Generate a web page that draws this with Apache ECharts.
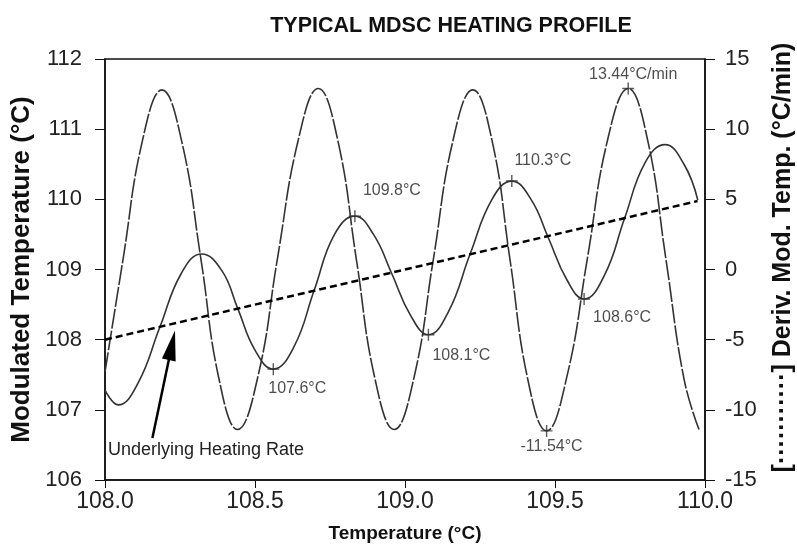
<!DOCTYPE html>
<html>
<head>
<meta charset="utf-8">
<script src="https://cdn.jsdelivr.net/npm/echarts@6/dist/echarts.min.js"></script>
<style>
  html, body { margin: 0; padding: 0; background: #fff; }
  #chart { width: 797px; height: 557px; }
</style>
</head>
<body>
<div id="chart"></div>
<script>
// x values (temperature, degC) and readings for the modulated temperature curve
var modX = [108.000, 108.044, 108.110, 108.183, 108.255, 108.322, 108.390, 108.442, 108.500, 108.561,
            108.630, 108.697, 108.765, 108.833, 108.895, 108.955, 109.018, 109.078, 109.145, 109.217,
            109.290, 109.356, 109.420, 109.477, 109.540, 109.597, 109.665, 109.732, 109.800, 109.867,
            109.930, 109.976];
var modY = [107.28, 107.07, 107.38, 108.18, 108.95, 109.22, 108.98, 108.45, 107.85, 107.58,
            107.90, 108.70, 109.50, 109.76, 109.50, 108.95, 108.35, 108.07, 108.40, 109.22,
            110.00, 110.26, 110.00, 109.46, 108.85, 108.58, 108.92, 109.73, 110.52, 110.78,
            110.50, 109.99];

// derivative of modulated temperature (degC/min, right axis)
var derivX = [108.000, 108.060, 108.125, 108.190, 108.255, 108.320, 108.380, 108.442, 108.510, 108.575,
              108.645, 108.711, 108.775, 108.838, 108.900, 108.964, 109.030, 109.095, 109.160, 109.226,
              109.290, 109.350, 109.410, 109.472, 109.540, 109.608, 109.676, 109.744, 109.808, 109.870,
              109.930, 109.980];
var derivY = [-7.3, 0.7, 9.2, 12.8, 9.2, 0.7, -7.8, -11.4, -7.6, 0.8,
              9.3, 12.9, 9.3, 0.7, -7.8, -11.4, -7.7, 0.8, 9.2, 12.8,
              9.2, 0.7, -7.9, -11.5, -7.6, 0.8, 9.3, 12.9, 9.3, 0.7,
              -7.8, -11.4];

// underlying heating (straight line)
var baseX = [108.0, 109.975];
var baseY = [108.0, 109.975];

// annotated points
var modMarkX = [108.561, 108.833, 109.078, 109.356, 109.597];
var modMarkY = [107.58, 109.76, 108.07, 110.26, 108.58];
var modMarkText = ['107.6°C', '109.8°C', '108.1°C', '110.3°C', '108.6°C'];
var derivMarkX = [109.472, 109.744];
var derivMarkY = [-11.5, 12.9];
var derivMarkText = ['-11.54°C', '13.44°C/min'];

// arrow for "Underlying Heating Rate"
var arrowFrom = [108.158, 106.60];
var arrowTo = [108.223, 107.92];

// label offsets (px) for the annotations
var modLabelOffset = [[24, 19], [37, -26], [33, 21], [31, -20], [38, 19]];
var derivLabelOffset = [[5, 16], [5, -14]];

function pairs(xs, ys) {
    return xs.map(function (x, i) { return [x, ys[i]]; });
}

var plusPath = 'path://M4.4,0H5.6V4.4H10V5.6H5.6V10H4.4V5.6H0V4.4H4.4Z';
var font = 'Liberation Sans, Arial, sans-serif';

var chart = echarts.init(document.getElementById('chart'));

var option = {
    backgroundColor: '#fff',
    animation: false,
    title: {
        text: 'TYPICAL MDSC HEATING PROFILE',
        left: 446,
        top: 10,
        textAlign: 'center',
        textStyle: { fontFamily: font, fontSize: 21.5, fontWeight: 'bold', color: '#111' }
    },
    grid: {
        left: 105, right: 92, top: 59, bottom: 77,
        show: true,
        borderColor: '#111',
        borderWidth: 1.5,
        outerBoundsMode: 'none'
    },
    xAxis: {
        type: 'value',
        min: 108, max: 110, interval: 0.5,
        name: 'Temperature (°C)',
        nameLocation: 'middle',
        nameGap: 44,
        nameTextStyle: { fontFamily: font, fontSize: 19, fontWeight: 'bold', color: '#111' },
        axisLine: { onZero: false, lineStyle: { color: '#111', width: 1.5 } },
        axisTick: { length: 8, lineStyle: { color: '#111' } },
        axisLabel: {
            fontFamily: font, fontSize: 23, color: '#222', margin: 10,
            formatter: function (v) { return v.toFixed(1); }
        },
        splitLine: { show: false }
    },
    yAxis: [{
        type: 'value',
        min: 106, max: 112, interval: 1,
        name: 'Modulated Temperature (°C)',
        nameLocation: 'middle',
        nameRotate: 90,
        nameGap: 66,
        nameTextStyle: { fontFamily: font, fontSize: 26, fontWeight: 'bold', color: '#111' },
        axisLine: { show: true, onZero: false, lineStyle: { color: '#111', width: 1.5 } },
        axisTick: { show: true, length: 10, lineStyle: { color: '#111' } },
        axisLabel: { fontFamily: font, fontSize: 22, color: '#222', margin: 23 },
        splitLine: { show: false }
    }, {
        type: 'value',
        position: 'right',
        min: -15, max: 15, interval: 5,
        name: '[···········] Deriv. Mod. Temp. (°C/min)',
        nameLocation: 'middle',
        nameRotate: 90,
        nameGap: 66,
        nameTextStyle: {
            fontFamily: font, fontSize: 25, fontWeight: 'bold', color: '#111',
            padding: [0, 0, 0, 24]
        },
        axisLine: { show: true, onZero: false, lineStyle: { color: '#111', width: 1.5 } },
        axisTick: { show: true, length: 10, lineStyle: { color: '#111' } },
        axisLabel: { fontFamily: font, fontSize: 22, color: '#222', margin: 20 },
        splitLine: { show: false }
    }],
    series: [{
        name: 'Modulated Temperature',
        type: 'line',
        yAxisIndex: 0,
        smooth: 0.45,
        showSymbol: false,
        data: pairs(modX, modY),
        lineStyle: { color: '#333', width: 1.6 }
    }, {
        name: 'Deriv. Mod. Temp.',
        type: 'line',
        yAxisIndex: 1,
        smooth: 0.45,
        showSymbol: false,
        data: pairs(derivX, derivY),
        lineStyle: { color: '#333', width: 1.6, type: [20, 2] }
    }, {
        name: 'Underlying Heating Rate',
        type: 'line',
        yAxisIndex: 0,
        showSymbol: false,
        data: pairs(baseX, baseY),
        lineStyle: { color: '#000', width: 2.5, type: [7, 4] },
        markLine: {
            silent: true,
            lineStyle: { color: '#000', width: 2.5, type: 'solid' },
            label: { show: false },
            data: [[
                { coord: arrowFrom, symbol: 'none' },
                { coord: arrowTo, symbol: 'triangle', symbolSize: [14, 30] }
            ]]
        }
    }, {
        type: 'scatter',
        yAxisIndex: 0,
        symbol: plusPath,
        symbolSize: 12,
        itemStyle: { color: '#333' },
        label: {
            show: true, position: 'inside',
            fontFamily: font, fontSize: 16, color: '#222'
        },
        data: modMarkX.map(function (x, i) {
            return {
                value: [x, modMarkY[i]],
                label: { formatter: modMarkText[i], offset: modLabelOffset[i] }
            };
        })
    }, {
        type: 'scatter',
        yAxisIndex: 1,
        symbol: plusPath,
        symbolSize: 12,
        itemStyle: { color: '#333' },
        label: {
            show: true, position: 'inside',
            fontFamily: font, fontSize: 16, color: '#222'
        },
        data: derivMarkX.map(function (x, i) {
            return {
                value: [x, derivMarkY[i]],
                label: { formatter: derivMarkText[i], offset: derivLabelOffset[i] }
            };
        })
    }],
    graphic: [{
        type: 'text',
        left: 108,
        top: 441,
        style: {
            text: 'Underlying Heating Rate',
            font: '18px ' + font,
            fill: '#222'
        }
    }]
};

chart.setOption(option);
</script>
</body>
</html>
